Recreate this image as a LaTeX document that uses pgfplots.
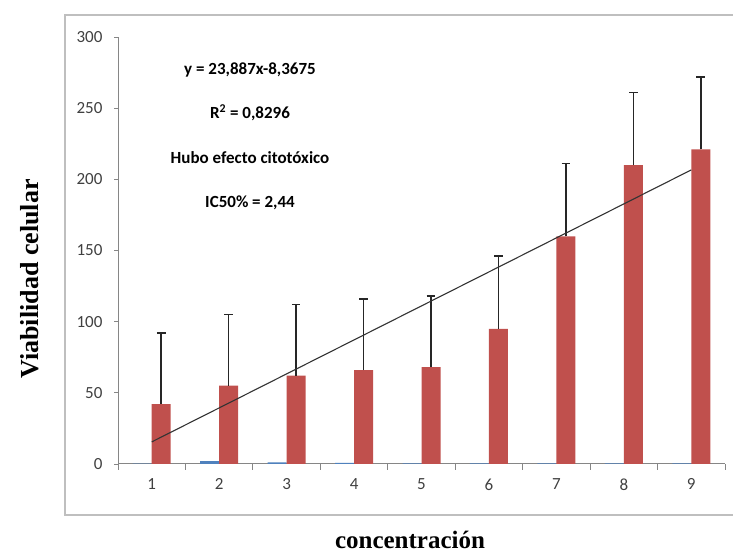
\documentclass[border=0pt]{standalone}
\usepackage{pgfplots}
\pgfplotsset{compat=1.18}
\usepackage{pgfplotstable}
\usepackage{fontspec}
\setmainfont{Carlito}
\newfontfamily\tnr{Liberation Serif}
\definecolor{barred}{HTML}{C0504D}
\definecolor{barblue}{HTML}{4F81BD}
\definecolor{axgray}{HTML}{868686}
\definecolor{txtgray}{HTML}{404040}
\pgfplotstableread{
x y ey
1 42 50
2 55 50
3 62 50
4 66 50
5 68 50
6 95 51
7 160 51
8 210 51
9 221 51
}\redtab
\pgfplotstableread{
x y
1 0.2
2 2.0
3 1.2
4 0.8
5 0.4
6 0.4
7 0.4
8 0.4
9 0.4
}\bluetab
\begin{document}
\begin{tikzpicture}[x=1pt,y=1pt]
\useasboundingbox (0,0) rectangle (733,553);
\draw[draw=black!25, line width=1.5pt] (65,38) rectangle (745,538);
\begin{axis}[
  at={(118pt,89pt)}, anchor=south west, scale only axis,
  width=607pt, height=427pt,
  xmin=0.5, xmax=9.5, ymin=0, ymax=300,
  axis lines=left,
  axis line style={-, draw=axgray, line width=1pt},
  xtick={1,...,9},
  minor xtick={0.5,1.5,...,9.5},
  ytick={0,50,...,300},
  tick align=outside,
  major tick length=4pt,
  minor tick length=6pt,
  x tick style={draw=none},
  minor x tick style={draw=axgray, line width=0.8pt},
  y tick style={draw=axgray, line width=0.8pt},
  tick label style={font=\fontsize{17}{17}\selectfont, text=txtgray},
  /pgf/number format/assume math mode=true,
  yticklabel style={xshift=-8pt},
  xticklabel style={yshift=-7pt},
  clip=false,
]
\addplot[ybar, bar width=19pt, bar shift=-9.5pt, fill=barblue, draw=none] table[x=x,y=y] {\bluetab};
\addplot[ybar, bar width=19pt, bar shift=0pt, fill=barred, draw=none,
  error bars/.cd, y dir=plus, y explicit,
  error bar style={black!85, line width=1.6pt},
  error mark options={rotate=90, black!85, mark size=4.3pt, line width=1.6pt}]
  table[x expr=\thisrow{x}+0.1409,y=y,y error=ey] {\redtab};
\addplot[sharp plot, no marks, draw=black!80, line width=1.1pt] coordinates {(1,15.52) (9,206.62)};
\end{axis}
\begin{scope}[every node/.style={font=\bfseries\fontsize{17}{17}\selectfont, text=black}]
\node at (250,483) {y = 23,887x-8,3675};
\node at (250,440) {R$^{\mathbf{2}}$ = 0,8296};
\node at (250,395) {Hubo efecto citotóxico};
\node at (250,350) {IC50\% = 2,44};
\end{scope}
\node[rotate=90, font=\tnr\bfseries\fontsize{26}{26}\selectfont] at (30,274) {Viabilidad celular};
\node[font=\tnr\bfseries\fontsize{25}{25}\selectfont] at (410,13) {concentración};
\end{tikzpicture}
\end{document}
